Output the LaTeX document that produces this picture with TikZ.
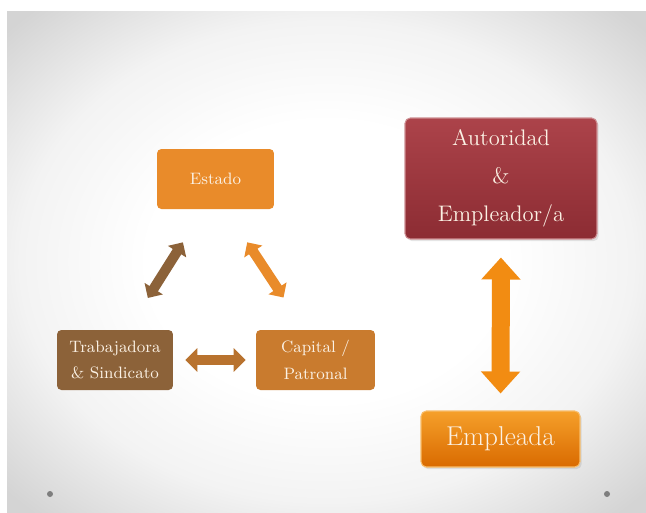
\documentclass[tikz,border=0pt]{standalone}
\usepackage{tikz}
\usetikzlibrary{arrows.meta,positioning,calc,shadows}
\definecolor{naranja}{HTML}{E98B2A}
\definecolor{cafe}{HTML}{8C6239}
\definecolor{cobre}{HTML}{C97B2E}
\definecolor{puente}{HTML}{B8722E}
\definecolor{vinoalto}{HTML}{AC434A}
\definecolor{vinobajo}{HTML}{8C2C33}
\definecolor{fuegoalto}{HTML}{F5A02A}
\definecolor{fuegobajo}{HTML}{D96A00}
\definecolor{flechav}{HTML}{F28C12}
\definecolor{crema}{HTML}{FBF1E4}
\definecolor{fondo}{HTML}{D4D4D4}
\definecolor{punto}{HTML}{7E7E7E}
\pgfdeclareradialshading{diapo}{\pgfpoint{0bp}{0bp}}{%
  color(0bp)=(white); color(14bp)=(white);
  color(24bp)=(white!72!fondo); color(34bp)=(fondo); color(75bp)=(fondo)}

\begin{document}
\begin{tikzpicture}[x=0.02cm,y=-0.02cm,
  tri/.style={rounded corners=2.5pt,minimum width=2.34cm,minimum height=1.2cm,
              align=center,text=crema,font=\fontsize{9.4}{15.2}\selectfont},
  jefe/.style={rounded corners=3pt,top color=vinoalto,bottom color=vinobajo,
               draw=vinoalto!60!white,line width=0.6pt,
               drop shadow={opacity=0.2,shadow xshift=1pt,shadow yshift=-1.2pt},
               minimum width=3.84cm,minimum height=2.42cm,align=center,
               text=crema,font=\fontsize{12.8}{21.6}\selectfont},
  emp/.style={rounded corners=3pt,top color=fuegoalto,bottom color=fuegobajo,
              draw=fuegoalto!70!white,line width=0.6pt,
              drop shadow={opacity=0.2,shadow xshift=1pt,shadow yshift=-1.2pt},
              minimum width=3.18cm,minimum height=1.12cm,
              text=crema,font=\fontsize{15.5}{18}\selectfont},
  link/.style={{Triangle[length=0.22cm,width=0.42cm]}-{Triangle[length=0.22cm,width=0.42cm]},
               line width=0.2cm}]
  \useasboundingbox (0,0) rectangle (646,512);
  % slide background
  \shade[shading=diapo] (7,11) rectangle (646,512);
  \fill[punto] (50,494) circle (3) (607,494) circle (3);

  % triangle of actors
  \node[tri,fill=naranja] (est) at (215.5,179) {Estado};
  \node[tri,fill=cafe,minimum width=2.32cm] (trab) at (115,360) {Trabajadora\\\& Sindicato};
  \node[tri,fill=cobre,minimum width=2.38cm] (cap) at (315.5,360) {Capital /\\Patronal};
  \draw[link,color=cafe,shorten <=0.78cm,shorten >=0.75cm]
       ($(est.south)!0.2!(est.south west)$) -- ($(trab.north)!0.22!(trab.north east)$);
  \draw[link,color=naranja,shorten <=0.79cm,shorten >=0.77cm]
       ($(est.south)!0.17!(est.south east)$) -- ($(cap.north)!0.18!(cap.north west)$);
  \draw[link,color=puente,shorten <=0.24cm,shorten >=0.2cm,
        {Triangle[length=0.24cm,width=0.46cm]}-{Triangle[length=0.24cm,width=0.46cm]}]
       (trab.east) -- (cap.west);

  % authority and employee
  \node[jefe] (aut) at (501,178.5) {Autoridad\\\&\\Empleador/a};
  \node[emp] (empl) at (500.5,439) {Empleada};
  \draw[color=flechav,line width=0.36cm,shorten <=0.36cm,shorten >=0.34cm,
        {Triangle[length=0.44cm,width=0.76cm]}-{Triangle[length=0.44cm,width=0.76cm]}]
       (aut.south) -- (empl.north);
\end{tikzpicture}
\end{document}
